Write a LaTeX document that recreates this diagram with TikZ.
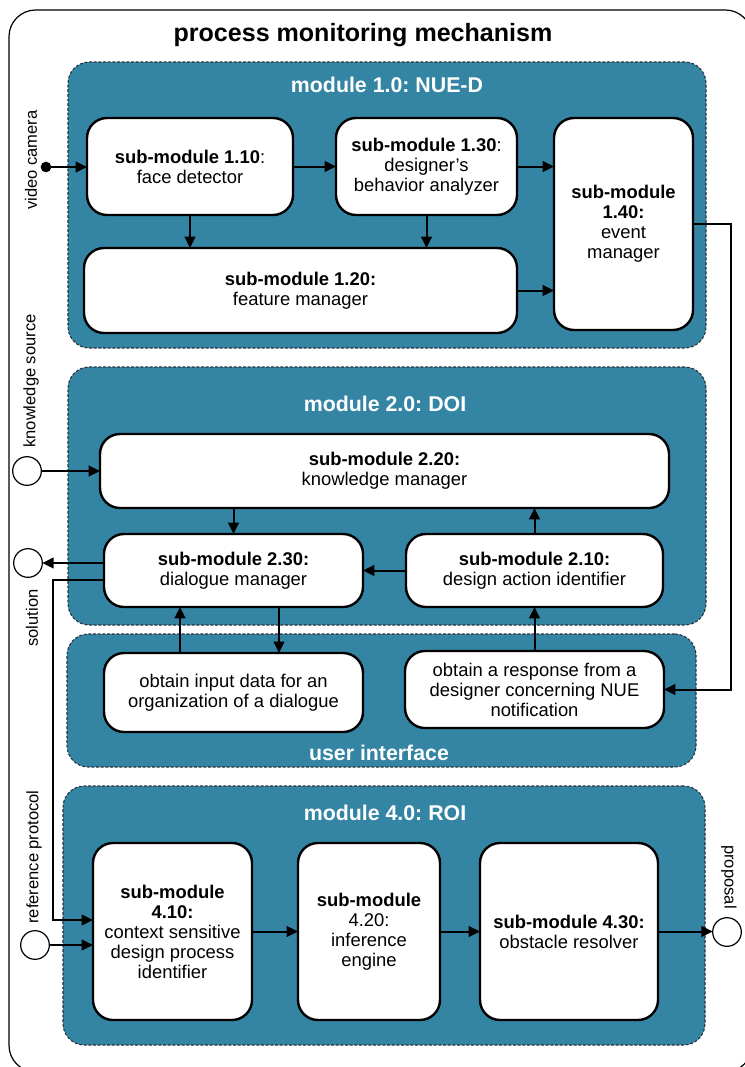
\documentclass[tikz,border=0pt]{standalone}
\usepackage{fontspec}
\setmainfont{Liberation Sans}
\usetikzlibrary{arrows.meta}
\frenchspacing
\definecolor{modteal}{RGB}{52,133,164}
\definecolor{dashgray}{RGB}{40,50,60}
\newcommand\subfont{\fontsize{13.8}{15}\selectfont}
\newcommand\mybox[7]{\node[#1, minimum width={(#5-#3)*0.75pt}, minimum height={(#6-#4)*0.75pt}] (#2) at ({(#3+#5)/2},{(#4+#6)/2}) {#7};}
\begin{document}
\begin{tikzpicture}[x=0.75pt,y=-0.75pt,
  modbox/.style={fill=modteal, draw=dashgray, line width=0.8pt, dash pattern=on 2.2pt off 1.3pt, rounded corners=16pt, inner sep=0pt, outer sep=0pt},
  subbox/.style={fill=white, draw=black, line width=1.8pt, rounded corners=15pt, align=center, inner sep=2pt, outer sep=0pt, font=\subfont},
  modtitle/.style={text=white, font=\fontsize{16}{18}\selectfont\bfseries},
  side/.style={font=\fontsize{12.4}{14}\selectfont},
  term/.style={circle, draw=black, line width=0.9pt, minimum size=21.5pt, inner sep=0pt, outer sep=0pt, fill=white},
  arr/.style={line width=1.5pt, -{Triangle[length=8.5pt,width=8pt]}},
  conn/.style={line width=1.5pt}
]
\useasboundingbox (0,0) rectangle (745,1067);
\draw[line width=0.9pt, rounded corners=20pt] (9,10) rectangle (752,1072);
\node[font=\fontsize{18.8}{21}\selectfont\bfseries] (title) at (363,35) {process monitoring mechanism};

% module 1
\mybox{modbox}{m1}{68}{62}{706}{348}{}
\node[modtitle] (m1t) at (387,85) {module 1.0: NUE-D};
\mybox{subbox}{s110}{87}{118}{293}{215}{\textbf{sub-module 1.10}:\\face detector}
\mybox{subbox}{s130}{336}{118}{517}{215}{\textbf{sub-module 1.30}:\\designer’s\\behavior analyzer}
\mybox{subbox}{s140}{554}{118}{693}{330}{\textbf{sub-module}\\\textbf{1.40:}\\event\\manager}
\mybox{subbox}{s120}{84}{248}{517}{333}{\textbf{sub-module 1.20:}\\feature manager}

% module 2
\mybox{modbox}{m2}{68}{367}{706}{625}{}
\node[modtitle] (m2t) at (385,404) {module 2.0: DOI};
\mybox{subbox}{s220}{100}{434}{669}{508}{\textbf{sub-module 2.20:}\\knowledge manager}
\mybox{subbox}{s230}{104}{534}{363}{607}{\textbf{sub-module 2.30:}\\dialogue manager}
\mybox{subbox}{s210}{406}{534}{663}{607}{\textbf{sub-module 2.10:}\\design action identifier}

% user interface
\mybox{modbox}{ui}{67}{634}{696}{767}{}
\node[modtitle] (uit) at (379,753) {user interface};
\mybox{subbox}{ui1}{104}{653}{363}{732}{obtain input data for an\\organization of a dialogue}
\mybox{subbox}{ui2}{405}{651}{664}{728}{obtain a response from a\\designer concerning NUE\\notification}

% module 4
\mybox{modbox}{m4}{63}{786}{705}{1045}{}
\node[modtitle] (m4t) at (385,813) {module 4.0: ROI};
\mybox{subbox}{s410}{93}{843}{252}{1020}{\textbf{sub-module}\\\textbf{4.10:}\\context sensitive\\design process\\identifier}
\mybox{subbox}{s420}{298}{843}{440}{1020}{\textbf{sub-module}\\4.20:\\inference\\engine}
\mybox{subbox}{s430}{480}{843}{658}{1020}{\textbf{sub-module 4.30:}\\obstacle resolver}

% terminals
\node[circle, fill=black, minimum size=8pt, inner sep=0pt] (cam) at (46,167) {};
\node[term] (ks) at (27,471) {};
\node[term] (sol) at (28,563) {};
\node[term] (rp) at (35,945) {};
\node[term] (prop) at (727,932) {};

% side labels
\node[side, rotate=90] (lcam) at (31,160) {video camera};
\node[side, rotate=90] (lks) at (31,381) {knowledge source};
\node[side, rotate=90] (lsol) at (32,618) {solution};
\node[side, rotate=90] (lrp) at (34,857) {reference protocol};
\node[side, rotate=-90] (lprop) at (729,877) {proposal};

% coordinates
\coordinate (r2) at (731,689.5);
\coordinate (l1) at (53,580);
\coordinate (l2) at (53,920);
\coordinate (a1) at (180,0);
\coordinate (a2) at (279,0);

% connectors module 1
\draw[arr] (cam.center) -- (cam -| s110.west);
\draw[arr] (s110.east) -- (s110.east -| s130.west);
\draw[arr] (s130.east) -- (s130.east -| s140.west);
\draw[arr] (s110.south) -- (s110.south |- s120.north);
\draw[arr] (s130.south) -- (s130.south |- s120.north);
\draw[arr] (s120.east) -- (s120.east -| s140.west);
\draw[arr] (s140.east) -| (r2) -- (ui2.east);

% module 2
\draw[arr] (ks.east) -- (ks.east -| s220.west);
\draw[arr] (s230.west |- sol) -- (sol.east);
\draw[arr] (s230.west |- l1) -- (l1) -- (l2) -- (l2 -| s410.west);
\draw[arr] (s230.north |- s220.south) -- (s230.north);
\draw[arr] (s210.north) -- (s210.north |- s220.south);
\draw[arr] (s210.west) -- (s210.west -| s230.east);
\draw[arr] (ui1.north -| a1) -- (s230.south -| a1);
\draw[arr] (s230.south -| a2) -- (ui1.north -| a2);
\draw[arr] (ui2.north) -- (ui2.north |- s210.south);

% module 4
\draw[arr] (rp.east) -- (rp.east -| s410.west);
\draw[arr] (s410.east) -- (s410.east -| s420.west);
\draw[arr] (s420.east) -- (s420.east -| s430.west);
\draw[arr] (s430.east) -- (s430.east -| prop.west);
\end{tikzpicture}
\end{document}
